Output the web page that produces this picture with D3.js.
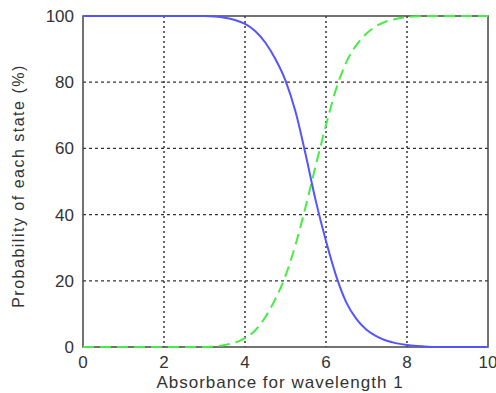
<!DOCTYPE html>
<html>
<head>
<meta charset="utf-8">
<script src="https://cdn.jsdelivr.net/npm/d3@7"></script>
<style>
  body { margin: 0; background: #fff; }
  svg { display: block; font-family: "Liberation Sans", Arial, sans-serif; }
</style>
</head>
<body>
<svg id="chart" width="496" height="393"></svg>
<script>
// absorbance values (x) every 0.25
const absorbance = d3.range(0, 10.001, 0.25);

// probability of state 1 (blue, solid)
const state1 = [100, 100, 100, 100, 100, 100, 100, 100, 100, 100, 100, 100,
    100, 99.85, 99.5, 98.8, 97.6, 95.5, 92, 87, 80.5, 71, 58, 44, 32, 21.5, 13.5, 8.5,
    5.2, 3.2, 1.9, 1.1, 0.6, 0.3, 0.1, 0, 0, 0, 0, 0, 0];

// probability of state 2 (green, dashed)
const state2 = [0, 0, 0, 0, 0, 0, 0, 0, 0, 0, 0, 0,
    0, 0.2, 0.6, 1.3, 2.7, 5, 9, 14.5, 21.5, 31, 42.5, 55, 67, 78, 86, 91.2,
    94.7, 97, 98.4, 99.2, 99.65, 99.9, 100, 100, 100, 100, 100, 100, 100];

const xTicks = [0, 2, 4, 6, 8, 10];
const yTicks = [0, 20, 40, 60, 80, 100];

const margin = {left: 83, top: 16, right: 8, bottom: 46};
const width = 496 - margin.left - margin.right;
const height = 393 - margin.top - margin.bottom;

const svg = d3.select("#chart");
const g = svg.append("g")
    .attr("transform", `translate(${margin.left},${margin.top})`);

const x = d3.scaleLinear().domain([0, 10]).range([0, width]);
const y = d3.scaleLinear().domain([0, 100]).range([height, 0]);

// grid - vertical dotted, horizontal dashed
g.append("g")
    .selectAll("line")
    .data(xTicks.slice(1, -1))
    .enter()
    .append("line")
    .attr("x1", d => x(d)).attr("x2", d => x(d))
    .attr("y1", 0).attr("y2", height)
    .attr("stroke", "#333")
    .attr("stroke-width", 1.5)
    .attr("stroke-dasharray", "2,3");

g.append("g")
    .selectAll("line")
    .data(yTicks.slice(1, -1))
    .enter()
    .append("line")
    .attr("x1", 0).attr("x2", width)
    .attr("y1", d => y(d)).attr("y2", d => y(d))
    .attr("stroke", "#333")
    .attr("stroke-width", 1.2)
    .attr("stroke-dasharray", "3,3");

// box
g.append("rect")
    .attr("width", width)
    .attr("height", height)
    .attr("fill", "none")
    .attr("stroke", "#444")
    .attr("stroke-width", 1.5);

// tick labels
g.append("g")
    .selectAll("text")
    .data(xTicks)
    .enter()
    .append("text")
    .attr("x", d => x(d))
    .attr("y", height + 21)
    .attr("text-anchor", "middle")
    .attr("font-size", 17)
    .attr("fill", "#333")
    .text(d => d);

g.append("g")
    .selectAll("text")
    .data(yTicks)
    .enter()
    .append("text")
    .attr("x", -9)
    .attr("y", d => y(d) + 6)
    .attr("text-anchor", "end")
    .attr("font-size", 17)
    .attr("fill", "#333")
    .text(d => d);

// curves
const line = series => d3.line()
    .x((d, i) => x(absorbance[i]))
    .y(d => y(d))
    .curve(d3.curveMonotoneX)(series);

g.append("path")
    .attr("d", line(state2))
    .attr("fill", "none")
    .attr("stroke", "#44ee44")
    .attr("stroke-width", 2)
    .attr("stroke-dasharray", "11,6");

g.append("path")
    .attr("d", line(state1))
    .attr("fill", "none")
    .attr("stroke", "#5555ff")
    .attr("stroke-width", 2);

// axis titles
svg.append("text")
    .attr("x", 280)
    .attr("y", 388)
    .attr("text-anchor", "middle")
    .attr("font-size", 17)
    .attr("letter-spacing", 1)
    .attr("fill", "#333")
    .text("Absorbance for wavelength 1");

svg.append("text")
    .attr("transform", "translate(24,186) rotate(-90)")
    .attr("text-anchor", "middle")
    .attr("font-size", 16)
    .attr("letter-spacing", 1.5)
    .attr("fill", "#333")
    .text("Probability of each state (%)");
</script>
</body>
</html>
